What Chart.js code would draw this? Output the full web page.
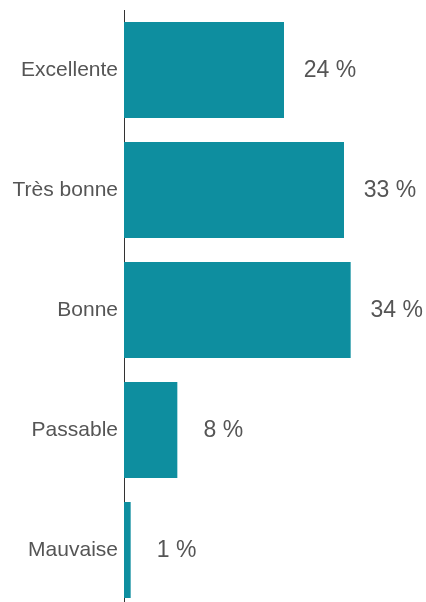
<!DOCTYPE html>
<html>
<head>
<meta charset="utf-8">
<script src="https://cdn.jsdelivr.net/npm/chart.js@4/dist/chart.umd.min.js"></script>
<style>
html, body { margin: 0; padding: 0; background: #fff; overflow: hidden; }
#wrap { width: 426px; height: 602px; overflow: hidden; position: relative; }
canvas { display: block; }
</style>
</head>
<body>
<div id="wrap"><canvas id="c" width="426" height="620"></canvas></div>
<script>
const categories = ["Excellente", "Très bonne", "Bonne", "Passable", "Mauvaise"];
const values = [24, 33, 34, 8, 1];
const valueSuffix = " %";

const valueLabels = {
  id: 'valueLabels',
  afterDatasetsDraw(chart) {
    const ctx = chart.ctx;
    const meta = chart.getDatasetMeta(0);
    ctx.save();
    ctx.font = '23px "Liberation Sans", Arial, sans-serif';
    ctx.fillStyle = '#555555';
    ctx.textAlign = 'center';
    ctx.textBaseline = 'middle';
    meta.data.forEach((bar, i) => {
      ctx.fillText(values[i] + valueSuffix, bar.x + 46, bar.y + 1);
    });
    ctx.restore();
  }
};

new Chart(document.getElementById('c'), {
  type: 'bar',
  data: {
    labels: categories,
    datasets: [{
      data: values,
      backgroundColor: '#0e8e9f',
      borderWidth: 0,
      barPercentage: 0.8,
      categoryPercentage: 1.0
    }]
  },
  options: {
    indexAxis: 'y',
    responsive: false,
    animation: false,
    devicePixelRatio: 1,
    layout: { padding: { top: 10, bottom: 10, left: 0, right: 2 } },
    plugins: { legend: { display: false }, tooltip: { enabled: false } },
    scales: {
      x: {
        display: false,
        min: 0,
        max: 45
      },
      y: {
        afterFit(scale) {
          scale.width = 124;
          scale.paddingTop = 0;
          scale.paddingBottom = 0;
        },
        grid: { display: false, drawTicks: false },
        border: { display: true, color: '#333333', width: 1 },
        ticks: {
          color: '#555555',
          padding: 6,
          font: { family: '"Liberation Sans", Arial, sans-serif', size: 21 }
        }
      }
    }
  },
  plugins: [valueLabels]
});
</script>
</body>
</html>
